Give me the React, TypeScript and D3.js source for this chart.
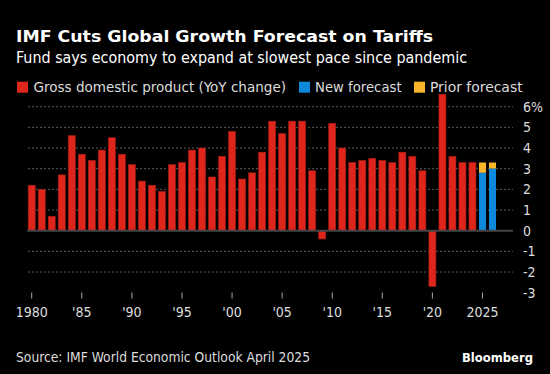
import React from "react";
import * as d3 from "d3";

const years: number[] = [
  1980, 1981, 1982, 1983, 1984, 1985, 1986, 1987, 1988, 1989,
  1990, 1991, 1992, 1993, 1994, 1995, 1996, 1997, 1998, 1999,
  2000, 2001, 2002, 2003, 2004, 2005, 2006, 2007, 2008, 2009,
  2010, 2011, 2012, 2013, 2014, 2015, 2016, 2017, 2018, 2019,
  2020, 2021, 2022, 2023, 2024, 2025, 2026,
];
const gdp: (number | null)[] = [
  2.2, 2.0, 0.7, 2.7, 4.6, 3.7, 3.4, 3.9, 4.5, 3.7,
  3.2, 2.4, 2.2, 1.9, 3.2, 3.3, 3.9, 4.0, 2.6, 3.6,
  4.8, 2.5, 2.8, 3.8, 5.3, 4.7, 5.3, 5.3, 2.9, -0.4,
  5.2, 4.0, 3.3, 3.4, 3.5, 3.4, 3.3, 3.8, 3.6, 2.9,
  -2.7, 6.6, 3.6, 3.3, 3.3, null, null,
];
const forecastYears: number[] = [2025, 2026];
const newForecast: number[] = [2.8, 3.0];
const priorForecast: number[] = [3.3, 3.3];
const yTicks: number[] = [6, 5, 4, 3, 2, 1, 0, -1, -2, -3];
const xTickYears: number[] = [1980, 1985, 1990, 1995, 2000, 2005, 2010, 2015, 2020, 2025];
const xTickLabels: string[] = ["1980", "'85", "'90", "'95", "'00", "'05", "'10", "'15", "'20", "2025"];
const legendLabels: string[] = ["Gross domestic product (YoY change)", "New forecast", "Prior forecast"];

const RED = "#de261d";
const BLUE = "#0d88db";
const YELLOW = "#f9b62b";
const FONT = "'DejaVu Sans Condensed', 'DejaVu Sans', sans-serif";

export default function App() {
  const W = 550;
  const H = 374;
  const x = d3
    .scaleBand<number>()
    .domain(years)
    .range([26.7, 497.5])
    .paddingInner(0.3)
    .paddingOuter(0.15);
  const y = d3.scaleLinear().domain([-3, 6]).range([292.7, 106.7]);
  const gridX0 = 28;
  const gridX1 = 513;
  const bw = x.bandwidth();

  const legendItems = [
    { color: RED, label: legendLabels[0], sx: 17, tx: 33.5, len: 252.5 },
    { color: BLUE, label: legendLabels[1], sx: 299, tx: 315, len: 86.6 },
    { color: YELLOW, label: legendLabels[2], sx: 414, tx: 430, len: 92.6 },
  ];

  return (
    <div style={{ position: "fixed", left: 0, top: 0, width: W, height: H, background: "#000" }}>
      <svg width={W} height={H} style={{ display: "block", background: "#000" }}>
        <text
          x={16}
          y={41.5}
          fill="#fff"
          fontFamily="'DejaVu Sans', sans-serif"
          fontWeight="bold"
          fontSize={16}
          textLength={417}
          lengthAdjust="spacingAndGlyphs"
        >
          IMF Cuts Global Growth Forecast on Tariffs
        </text>
        <text
          x={16}
          y={62.5}
          fill="#fff"
          fontFamily={FONT}
          fontSize={16}
          textLength={451}
          lengthAdjust="spacingAndGlyphs"
        >
          Fund says economy to expand at slowest pace since pandemic
        </text>
        {legendItems.map((l) => (
          <g key={l.label}>
            <rect x={l.sx} y={81.7} width={11} height={11} fill={l.color} />
            <text
              x={l.tx}
              y={92}
              fill="#ddd"
              fontFamily={FONT}
              fontSize={14.3}
              textLength={l.len}
              lengthAdjust="spacingAndGlyphs"
            >
              {l.label}
            </text>
          </g>
        ))}

        {yTicks
          .filter((t) => t !== 0 && t !== -3)
          .map((t) => (
            <line
              key={"g" + t}
              x1={gridX0}
              x2={gridX1}
              y1={y(t)}
              y2={y(t)}
              stroke="#5a5a5a"
              strokeWidth={1}
              strokeDasharray="2,2"
            />
          ))}

        {years.map((yr, i) => {
          const v = gdp[i];
          if (v === null) return null;
          const y0 = y(Math.max(0, v));
          const h = Math.abs(y(v) - y(0));
          return (
            <rect
              key={"b" + yr}
              x={x(yr)}
              y={y0}
              width={bw}
              height={h}
              fill={RED}
              stroke="#a51c16"
              strokeWidth={0.6}
            />
          );
        })}
        {forecastYears.map((yr, i) => (
          <g key={"f" + yr}>
            <rect
              x={x(yr)}
              y={y(priorForecast[i])}
              width={bw}
              height={y(newForecast[i]) - y(priorForecast[i])}
              fill={YELLOW}
            />
            <rect
              x={x(yr)}
              y={y(newForecast[i])}
              width={bw}
              height={y(0) - y(newForecast[i])}
              fill={BLUE}
            />
          </g>
        ))}

        <line x1={27} x2={gridX1} y1={y(0)} y2={y(0)} stroke="#444" strokeWidth={2} />

        {yTicks.map((t) => (
          <text
            key={"yl" + t}
            x={523}
            y={y(t)}
            dy="0.36em"
            fill="#ddd"
            fontFamily={FONT}
            fontSize={14}
          >
            {t === 6 ? "6%" : t < 0 ? "-" + Math.abs(t) : String(t)}
          </text>
        ))}

        {xTickYears.map((yr, i) => {
          const cx = (x(yr) as number) + bw / 2;
          return (
            <g key={"xt" + yr}>
              <line x1={cx} x2={cx} y1={292.5} y2={298.5} stroke="#aaa" strokeWidth={1} />
              <text x={cx} y={317} textAnchor="middle" fill="#ddd" fontFamily={FONT} fontSize={14}>
                {xTickLabels[i]}
              </text>
            </g>
          );
        })}

        <text
          x={16}
          y={361.5}
          fill="#ddd"
          fontFamily={FONT}
          fontSize={14.3}
          textLength={294}
          lengthAdjust="spacingAndGlyphs"
        >
          Source: IMF World Economic Outlook April 2025
        </text>
        <text
          x={533}
          y={361.5}
          textAnchor="end"
          fill="#fff"
          fontFamily="'DejaVu Sans', sans-serif"
          fontWeight="bold"
          fontSize={13}
          textLength={71}
          lengthAdjust="spacingAndGlyphs"
        >
          Bloomberg
        </text>
      </svg>
    </div>
  );
}
